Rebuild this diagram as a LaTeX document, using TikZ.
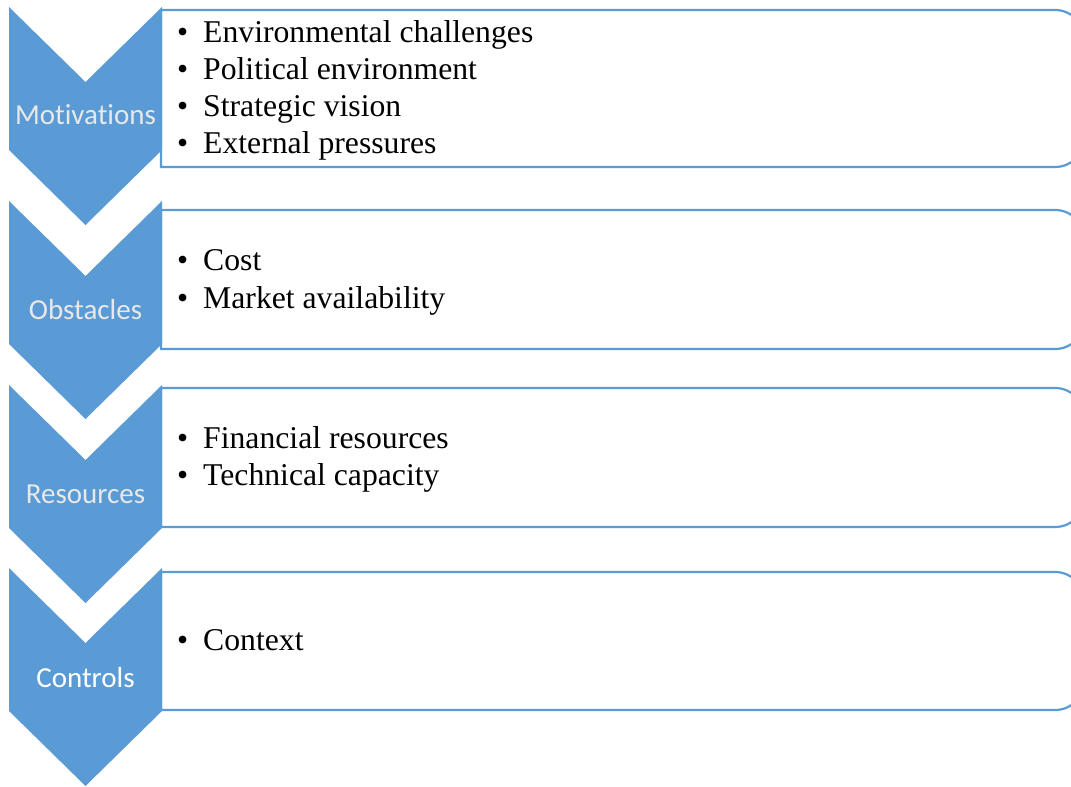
\documentclass[tikz,border=0pt]{standalone}
\usepackage{fontspec}
\setmainfont{Liberation Serif}
\newfontfamily\chevfont[Ligatures=NoCommon]{Carlito}
\definecolor{accent}{HTML}{5B9BD5}
\definecolor{labelgray}{HTML}{E8E8E8}
\begin{document}
\begin{tikzpicture}[x=1pt,y=-1pt,
  chevron/.style={fill=accent, draw=none},
  listbox/.style={draw=accent, line width=2.2pt, fill=white},
  stage/.style={font=\chevfont\fontsize{29}{34}\selectfont, text=labelgray, inner sep=0pt, anchor=base},
  item/.style={font=\fontsize{31.7}{37}\selectfont, inner sep=0pt, anchor=base west}]
\useasboundingbox (0,0) rectangle (1071,787);
% list panels: square on the left, rounded on the right
\begin{scope}
  \clip (0,0) rectangle (1071,787);
  \foreach \t/\b in {10/167, 210/349, 388/527, 572/710} {
    \draw[listbox] (161,\t) -- (1055,\t)
      arc[start angle=-90, end angle=0, radius=30] -- (1085,\b-30)
      arc[start angle=0, end angle=90, radius=30] -- (161,\b) -- cycle;
  }
\end{scope}
% downward chevrons
\foreach \t in {7, 201, 385, 568} {
  \fill[chevron] (9,\t) -- (85.5,\t+75) -- (162,\t) -- (162,\t+143)
    -- (85.5,\t+218) -- (9,\t+143) -- cycle;
}
% stage labels (kern keeps "t" and "i" apart)
\node[stage] (motivations) at (85.5,124) {Mot\kern0pt ivations};
\node[stage] (obstacles) at (85.5,319) {Obstacles};
\node[stage] (resources) at (85.5,503) {Resources};
\node[stage, text=white] (controls) at (85.5,687) {Controls};
% bullet items
\node[item] (env) at (177,42) {\makebox[26pt][l]{•}Environmental challenges};
\node[item] (pol) at (177,79) {\makebox[26pt][l]{•}Political environment};
\node[item] (str) at (177,116) {\makebox[26pt][l]{•}Strategic vision};
\node[item] (ext) at (177,153) {\makebox[26pt][l]{•}External pressures};
\node[item] (cost) at (177,270) {\makebox[26pt][l]{•}Cost};
\node[item] (mkt) at (177,308) {\makebox[26pt][l]{•}Market availability};
\node[item] (fin) at (177,448) {\makebox[26pt][l]{•}Financial resources};
\node[item] (tech) at (177,485) {\makebox[26pt][l]{•}Technical capacity};
\node[item] (ctx) at (177,650) {\makebox[26pt][l]{•}Context};
\end{tikzpicture}
\end{document}
